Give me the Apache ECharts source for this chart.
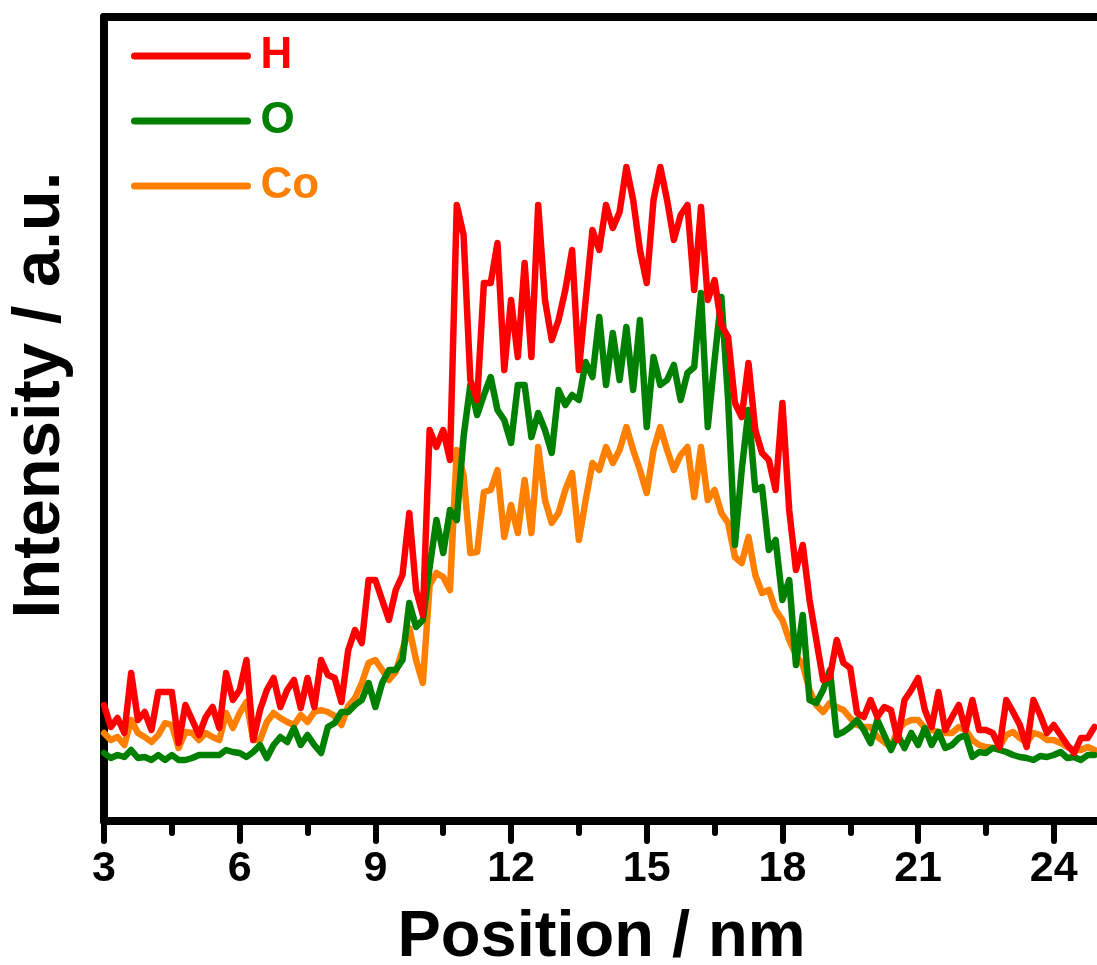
<!DOCTYPE html>
<html>
<head>
<meta charset="utf-8">
<script src="https://cdn.jsdelivr.net/npm/echarts@6/dist/echarts.min.js"></script>
<style>
  html, body { margin: 0; padding: 0; background: #ffffff; }
  #chart { width: 1097px; height: 965px; }
</style>
</head>
<body>
<div id="chart"></div>
<script>
// Line-scan positions (nm): sampled every 0.15 nm starting at 3 nm
const X_START = 3;
const X_STEP = 0.15;

// Intensity (a.u.) for each element along the scan
const hValues = [116,94,103,88,148,101,109,91,129,129,
  129,78,116,101,86,104,114,93,148,121,
  131,161,81,111,131,143,114,131,141,113,
  143,114,161,146,143,119,171,191,178,241,
  241,221,201,231,246,308,231,206,391,374,
  391,361,616,586,441,421,538,538,578,451,
  521,464,558,464,616,521,481,501,531,571,
  451,521,591,571,616,593,609,654,621,571,
  538,621,654,621,581,606,616,531,614,521,
  541,496,484,418,404,458,391,368,361,331,
  418,311,251,276,221,181,141,144,181,158,
  153,108,104,121,104,114,111,81,121,131,
  143,111,94,129,91,104,116,91,121,91,
  91,88,74,121,109,96,74,121,106,88,
  96,86,76,68,83,83,94];

const oValues = [68,63,66,64,71,63,64,61,66,61,
  66,61,61,63,66,66,66,66,71,69,
  68,64,69,76,63,76,84,79,93,76,
  86,76,68,94,98,109,109,116,121,138,
  114,138,151,151,161,218,194,201,254,301,
  268,311,301,384,436,406,426,444,411,401,
  378,436,436,384,408,391,368,431,416,426,
  421,459,444,504,436,488,441,494,431,501,
  394,464,436,441,456,421,448,454,528,394,
  461,524,421,276,351,411,331,334,271,281,
  221,241,156,206,121,118,131,151,86,89,
  94,101,91,78,101,86,71,86,73,88,
  76,93,76,89,73,76,83,86,64,69,
  68,73,71,69,66,64,63,61,65,64,
  66,69,63,64,61,66,66];

const coValues = [88,81,84,76,101,88,84,79,86,98,
  96,73,89,88,81,88,84,81,108,93,
  108,119,81,81,99,108,103,99,96,106,
  99,109,111,109,105,96,115,123,138,158,
  161,151,141,149,171,193,161,138,236,248,
  244,231,371,346,268,269,329,331,351,284,
  316,288,341,288,374,321,298,308,331,348,
  281,321,358,351,374,358,371,394,371,351,
  328,371,394,371,351,366,374,324,374,321,
  331,308,298,264,258,284,246,228,231,211,
  201,181,166,156,131,116,109,118,114,111,
  103,96,94,94,84,79,74,91,98,101,
  101,93,91,89,88,88,94,91,81,76,
  74,73,74,86,89,83,78,88,86,81,
  81,78,74,71,71,74,71];

// Axis ticks (nm)
const majorTicks = [3, 6, 9, 12, 15, 18, 21, 24];
const minorTicks = [4.5, 7.5, 10.5, 13.5, 16.5, 19.5, 22.5];

const seriesNames = ['H', 'O', 'Co'];
const seriesColors = ['#ff0000', '#008000', '#ff8000'];
const seriesValues = [hValues, oValues, coValues];

const FONT = '"Liberation Sans", Arial, sans-serif';

function toPairs(values) {
  return values.map((v, i) => [+(X_START + i * X_STEP).toFixed(2), v]);
}

const chart = echarts.init(document.getElementById('chart'), null, { renderer: 'canvas' });

const axisRange = { min: 3, max: 25 };

const option = {
  backgroundColor: '#ffffff',
  animation: false,
  grid: { left: 104, top: 17, width: 995, height: 804, containLabel: false, outerBoundsMode: 'none' },
  legend: {
    orient: 'vertical',
    left: 126,
    top: 29,
    itemWidth: 113,
    itemHeight: 12,
    itemGap: 21,
    itemStyle: { opacity: 0 },
    lineStyle: { width: 7, cap: 'round' },
    textStyle: { fontFamily: FONT, fontSize: 44, fontWeight: 'bold', padding: [0, 0, 0, 8] },
    data: seriesNames.map((n, i) => ({ name: n, textStyle: { color: seriesColors[i] } }))
  },
  xAxis: [
    {
      type: 'value', position: 'bottom', ...axisRange,
      name: 'Position / nm', nameLocation: 'middle', nameGap: 85,
      nameTextStyle: { fontFamily: FONT, fontSize: 65, fontWeight: 'bold', color: '#000' },
      axisLine: { onZero: false, lineStyle: { color: '#000', width: 8, cap: 'round' } },
      axisTick: { show: true, inside: false, length: 20, customValues: majorTicks,
        lineStyle: { color: '#000', width: 6, cap: 'round' } },
      axisLabel: { show: true, customValues: majorTicks, margin: 27, color: '#000',
        fontFamily: FONT, fontSize: 43, fontWeight: 'bold' },
      splitLine: { show: false }
    },
    {
      type: 'value', position: 'bottom', ...axisRange,
      axisLine: { show: false, onZero: false },
      axisTick: { show: true, inside: false, length: 12, customValues: minorTicks,
        lineStyle: { color: '#000', width: 6, cap: 'round' } },
      axisLabel: { show: false },
      splitLine: { show: false }
    },
    {
      type: 'value', position: 'top', ...axisRange,
      axisLine: { onZero: false, lineStyle: { color: '#000', width: 8, cap: 'round' } },
      axisTick: { show: false },
      axisLabel: { show: false },
      splitLine: { show: false }
    }
  ],
  yAxis: {
    type: 'value', min: 0, max: 804,
    name: 'Intensity / a.u.', nameLocation: 'middle', nameGap: 30, nameRotate: 90,
    nameTextStyle: { fontFamily: FONT, fontSize: 67, fontWeight: 'bold', color: '#000',
      padding: [0, 0, 0, 48] },
    axisLine: { onZero: false, lineStyle: { color: '#000', width: 8, cap: 'round' } },
    axisTick: { show: false },
    axisLabel: { show: false },
    splitLine: { show: false }
  },
  series: seriesNames.map((n, i) => ({
    name: n,
    type: 'line',
    xAxisIndex: 0,
    symbol: 'none',
    z: 4 - i,
    color: seriesColors[i],
    lineStyle: { color: seriesColors[i], width: 6.5, join: 'round', cap: 'round' },
    data: toPairs(seriesValues[i])
  }))
};

chart.setOption(option);
</script>
</body>
</html>
